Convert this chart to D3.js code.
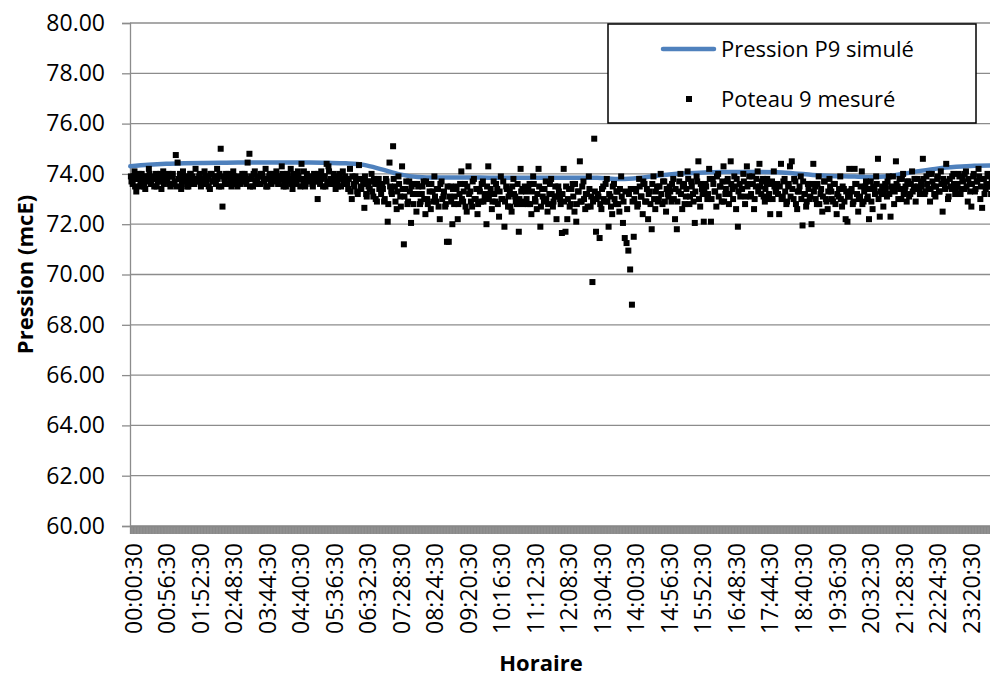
<!DOCTYPE html>
<html lang="fr">
<head>
    <meta charset="UTF-8"/>
    <title>Pression P9</title>
    <script src="https://d3js.org/d3.v7.min.js"></script>
    <style>
        body { margin: 0; background: #fff; }
        svg { font-family: "Open Sans", sans-serif; }
    </style>
</head>
<body>
    <div id="chart"></div>

    <script>
        // x tick labels (one every 56 minutes)
        var tickLabels = ["00:00:30", "00:56:30", "01:52:30", "02:48:30", "03:44:30", "04:40:30",
            "05:36:30", "06:32:30", "07:28:30", "08:24:30", "09:20:30", "10:16:30", "11:12:30",
            "12:08:30", "13:04:30", "14:00:30", "14:56:30", "15:52:30", "16:48:30", "17:44:30",
            "18:40:30", "19:36:30", "20:32:30", "21:28:30", "22:24:30", "23:20:30"];

        var yTicks = [60, 62, 64, 66, 68, 70, 72, 74, 76, 78, 80];

        // simulated pressure, one value every 30 minutes (00:00 -> 24:00)
        var simValues = [74.30, 74.36, 74.40, 74.42, 74.43, 74.44, 74.45, 74.45, 74.45, 74.45,
            74.45, 74.44, 74.42, 74.36, 74.18, 73.98, 73.88, 73.86, 73.86, 73.86,
            73.85, 73.85, 73.85, 73.85, 73.85, 73.85, 73.85, 73.80, 73.82, 73.90,
            73.98, 74.03, 74.06, 74.08, 74.08, 74.08, 74.07, 74.02, 73.96, 73.92,
            73.90, 73.88, 73.90, 74.00, 74.12, 74.22, 74.28, 74.32, 74.33];

        // measured pressure, one row per hour, one value every 3 minutes (minute +1)
        var measured = [
            [73.9, 73.6, 74.1, 73.3, 73.8, 73.5, 74.0, 73.7, 73.4, 73.9, 74.2, 73.6, 73.8, 73.5, 74.0, 73.7, 73.9, 73.4, 74.1, 73.8],
            [73.7, 74.0, 73.5, 73.9, 73.6, 74.75, 74.45, 73.8, 73.4, 74.1, 73.7, 73.9, 73.5, 74.0, 73.8, 73.6, 74.2, 73.7, 73.9, 73.5],
            [73.8, 74.1, 73.6, 73.9, 73.4, 74.0, 73.7, 73.9, 74.2, 73.5, 75.0, 72.7, 73.8, 74.0, 73.6, 73.9, 73.5, 74.1, 73.7, 73.8],
            [73.9, 73.6, 74.0, 73.7, 73.9, 74.45, 74.8, 73.8, 73.5, 74.1, 73.7, 73.9, 73.6, 74.0, 73.8, 74.2, 73.5, 73.9, 73.7, 74.0],
            [73.8, 74.1, 73.6, 73.9, 74.3, 73.5, 73.8, 74.0, 73.7, 74.2, 73.4, 73.9, 73.6, 74.1, 73.8, 74.4, 73.7, 73.5, 74.0, 73.8],
            [73.9, 73.6, 74.0, 73.7, 73.0, 73.8, 74.1, 73.5, 73.9, 74.4, 74.3, 73.6, 73.8, 74.0, 73.4, 73.7, 73.9, 73.5, 74.1, 73.6],
            [73.8, 73.4, 74.2, 73.0, 73.6, 73.9, 73.3, 74.35, 73.5, 73.8, 72.65, 73.2, 73.7, 73.4, 74.0, 73.1, 73.6, 72.9, 73.8, 73.5],
            [73.6, 72.9, 73.8, 72.1, 74.45, 73.3, 75.1, 73.5, 72.6, 73.9, 73.1, 74.3, 71.2, 73.4, 72.8, 73.7, 72.05, 73.2, 73.6, 72.5],
            [73.5, 72.8, 73.2, 73.7, 72.4, 73.0, 73.6, 72.6, 73.3, 73.9, 72.9, 73.4, 72.2, 73.7, 73.1, 72.7, 71.3, 71.3, 73.5, 72.0],
            [72.8, 73.5, 72.2, 73.2, 74.1, 72.9, 73.6, 72.5, 74.3, 73.3, 72.7, 73.8, 73.0, 72.4, 73.4, 72.9, 73.7, 73.1, 72.0, 74.3],
            [73.2, 72.6, 73.7, 72.9, 73.4, 72.3, 73.9, 73.0, 71.9, 73.5, 72.7, 73.3, 72.5, 73.8, 73.1, 72.8, 71.7, 74.2, 73.4, 72.9],
            [73.3, 72.8, 73.6, 72.4, 73.9, 73.0, 72.6, 74.2, 71.9, 73.4, 72.9, 73.7, 72.5, 73.2, 73.8, 72.7, 73.1, 72.2, 73.5, 73.0],
            [71.65, 74.2, 71.7, 72.2, 73.4, 72.8, 73.6, 72.5, 72.1, 73.3, 74.5, 72.9, 73.7, 72.6, 73.2, 73.9, 72.7, 69.7, 75.4, 71.7],
            [73.2, 71.45, 72.6, 73.5, 72.9, 73.8, 71.9, 73.1, 72.4, 73.6, 72.8, 73.3, 72.5, 73.9, 72.05, 71.45, 71.25, 70.95, 70.2, 68.8],
            [71.5, 73.4, 72.7, 73.8, 73.1, 72.4, 73.6, 72.9, 72.2, 73.3, 71.8, 73.9, 72.6, 73.5, 73.0, 74.0, 72.8, 73.7, 72.5, 73.2],
            [73.5, 72.9, 73.8, 72.2, 71.8, 73.3, 74.0, 72.6, 73.6, 73.1, 74.1, 72.8, 73.7, 73.2, 72.05, 73.9, 74.5, 72.7, 73.4, 72.1],
            [73.6, 73.0, 74.2, 72.1, 73.8, 73.3, 72.7, 74.0, 73.5, 72.9, 74.3, 73.2, 73.7, 72.8, 74.5, 73.4, 73.9, 72.6, 71.9, 73.6],
            [73.4, 74.0, 72.8, 74.3, 73.6, 73.1, 73.9, 72.6, 73.5, 74.1, 74.4, 73.2, 73.8, 72.9, 73.6, 73.0, 72.4, 73.7, 74.1, 73.3],
            [73.6, 72.4, 74.4, 73.1, 73.8, 72.8, 73.5, 74.3, 74.5, 73.0, 73.7, 72.6, 73.3, 73.9, 71.95, 73.2, 72.7, 73.6, 73.0, 72.0],
            [74.4, 73.5, 72.8, 73.9, 73.2, 72.5, 73.7, 73.0, 72.6, 73.8, 73.3, 72.9, 73.6, 72.4, 73.1, 73.9, 72.7, 73.4, 72.2, 72.1],
            [74.2, 73.3, 72.8, 74.2, 73.6, 72.5, 73.1, 74.1, 72.9, 73.5, 73.0, 72.2, 73.7, 72.6, 73.4, 73.9, 74.6, 72.3, 73.2, 72.7],
            [73.6, 73.1, 73.9, 72.3, 73.4, 72.8, 74.5, 73.5, 73.8, 73.0, 74.0, 73.3, 72.9, 73.7, 73.2, 74.1, 73.5, 72.9, 73.8, 73.4],
            [73.7, 74.6, 73.2, 73.9, 73.4, 72.9, 74.0, 73.5, 73.1, 73.8, 73.3, 74.1, 72.5, 73.6, 74.4, 73.0, 73.8, 73.4, 74.0, 73.2],
            [73.5, 74.0, 73.2, 73.8, 73.4, 74.1, 72.9, 73.6, 72.7, 73.9, 73.3, 73.7, 74.2, 73.0, 72.65, 73.8, 73.4, 74.0, 73.5, 73.2]
        ];

        // more measured values, same layout, minute +2 of each 3-minute slot
        var measuredB = [
            [73.7, 73.9, 73.5, 73.8, 74.0, 73.6, 73.8, 73.5, 73.9, 73.7, 74.0, 73.6, 73.8, 73.9, 73.5, 73.7, 74.0, 73.8, 73.6, 73.9],
            [73.8, 73.6, 73.9, 74.0, 73.7, 73.5, 73.8, 74.0, 73.6, 73.9, 73.8, 73.5, 73.7, 74.0, 73.9, 73.6, 73.8, 73.7, 74.0, 73.6],
            [73.6, 73.9, 73.8, 73.5, 74.0, 73.7, 73.9, 73.6, 73.8, 74.0, 73.5, 73.9, 73.7, 73.6, 74.0, 73.8, 73.6, 73.9, 73.8, 73.5],
            [73.8, 73.7, 73.9, 74.0, 73.6, 73.8, 73.5, 73.9, 74.0, 73.7, 73.8, 73.6, 74.0, 73.9, 73.7, 73.5, 73.8, 74.0, 73.6, 73.9],
            [73.7, 73.9, 73.6, 73.8, 74.0, 73.7, 73.5, 73.9, 73.8, 73.6, 74.0, 73.8, 73.7, 73.9, 73.5, 73.8, 74.1, 73.6, 73.9, 73.7],
            [73.8, 73.5, 73.9, 73.7, 74.0, 73.6, 73.8, 73.9, 73.5, 73.7, 74.1, 73.8, 73.6, 73.9, 73.7, 73.5, 74.0, 73.8, 73.6, 73.9],
            [73.6, 73.8, 73.3, 73.9, 73.5, 73.7, 73.2, 73.8, 73.4, 73.6, 73.9, 73.1, 73.5, 73.7, 73.3, 73.8, 73.0, 73.6, 73.4, 73.2],
            [73.4, 73.0, 73.7, 72.8, 73.5, 73.2, 73.8, 72.9, 73.3, 73.6, 72.7, 73.4, 73.1, 73.7, 72.9, 73.3, 73.5, 72.8, 73.2, 73.6],
            [73.2, 72.9, 73.5, 73.0, 73.7, 72.8, 73.3, 73.6, 72.9, 73.1, 73.4, 72.7, 73.6, 73.0, 73.3, 72.8, 73.5, 73.1, 72.9, 73.4],
            [73.1, 73.4, 72.8, 73.6, 73.0, 73.3, 72.7, 73.5, 73.2, 72.9, 73.7, 73.0, 73.4, 72.8, 73.3, 73.6, 72.9, 73.2, 73.5, 73.0],
            [73.4, 72.9, 73.2, 73.6, 72.8, 73.3, 73.0, 73.7, 72.9, 73.4, 73.1, 72.7, 73.5, 73.2, 72.9, 73.6, 73.0, 73.3, 72.8, 73.5],
            [73.0, 73.4, 72.8, 73.3, 73.6, 72.9, 73.2, 73.5, 72.7, 73.1, 73.4, 73.0, 72.8, 73.6, 73.2, 72.9, 73.5, 73.1, 73.3, 72.8],
            [73.2, 72.9, 73.5, 73.0, 72.7, 73.4, 73.1, 73.6, 72.8, 73.3, 72.9, 73.5, 73.0, 73.2, 72.7, 73.4, 73.1, 72.9, 73.3, 73.0],
            [73.1, 72.8, 73.4, 73.0, 73.6, 72.9, 73.2, 72.7, 73.5, 73.0, 73.3, 72.8, 73.4, 73.1, 72.9, 73.3, 72.6, 73.2, 73.4, 72.9],
            [73.0, 73.3, 72.8, 73.5, 73.1, 73.7, 72.9, 73.4, 73.2, 72.8, 73.6, 73.0, 73.3, 72.9, 73.5, 73.2, 73.7, 72.9, 73.4, 73.1],
            [73.3, 73.6, 73.0, 73.4, 72.9, 73.7, 73.2, 73.5, 72.8, 73.4, 73.8, 73.1, 73.5, 72.9, 73.3, 73.7, 73.0, 73.6, 73.2, 73.4],
            [73.5, 73.2, 73.8, 73.0, 73.6, 73.3, 73.9, 73.1, 73.5, 73.7, 72.9, 73.4, 73.8, 73.2, 73.6, 73.0, 73.5, 73.8, 73.3, 73.1],
            [73.4, 73.7, 73.1, 73.5, 73.9, 73.2, 73.6, 73.0, 73.8, 73.3, 73.5, 73.7, 73.1, 73.4, 73.8, 73.2, 73.6, 73.0, 73.5, 73.3],
            [73.2, 73.5, 73.0, 73.7, 73.3, 72.9, 73.6, 73.1, 73.4, 73.8, 72.8, 73.3, 73.5, 73.0, 73.7, 73.2, 72.9, 73.4, 73.1, 73.6],
            [73.3, 73.0, 73.6, 72.8, 73.4, 73.1, 73.7, 72.9, 73.3, 73.5, 73.0, 73.6, 72.8, 73.2, 73.4, 73.0, 73.5, 72.9, 73.3, 73.1],
            [73.1, 73.4, 72.9, 73.6, 73.2, 73.0, 73.5, 72.8, 73.3, 73.7, 73.1, 73.4, 72.9, 73.5, 73.2, 73.6, 73.0, 73.3, 73.5, 73.2],
            [73.4, 73.7, 73.2, 73.5, 73.9, 73.3, 73.6, 73.0, 73.4, 73.8, 73.2, 73.5, 73.7, 73.1, 73.6, 73.3, 73.8, 73.4, 73.5, 73.2],
            [73.5, 73.8, 73.3, 73.6, 74.0, 73.4, 73.7, 73.2, 73.5, 73.9, 73.3, 73.6, 73.8, 73.4, 73.7, 73.1, 73.5, 73.9, 73.6, 73.4],
            [73.6, 73.9, 73.4, 73.7, 74.0, 73.5, 73.8, 73.3, 73.6, 74.0, 73.4, 73.7, 73.9, 73.5, 73.8, 73.2, 73.6, 73.9, 73.5, 73.7]
        ];

        var w = 990;
        var h = 678;
        var plotLeft = 130, plotRight = 992, plotTop = 23, plotBottom = 526;

        var minutes = d3.range(1440);

        var xScale = d3.scaleBand()
                        .domain(minutes)
                        .range([plotLeft, plotRight])
                        .padding(0);

        function xMid(m) { return xScale(m) + xScale.bandwidth() / 2; }

        var yScale = d3.scaleLinear()
                        .domain([60, 80])
                        .range([plotBottom, plotTop]);

        var svg = d3.select("#chart")
                    .append("svg")
                    .attr("width", w)
                    .attr("height", h);

        // horizontal grid lines
        svg.append("g")
           .selectAll("line")
           .data(yTicks)
           .enter()
           .append("line")
           .attr("x1", plotLeft)
           .attr("x2", w)
           .attr("y1", function(d) { return yScale(d); })
           .attr("y2", function(d) { return yScale(d); })
           .attr("stroke", "#8c8c8c")
           .attr("stroke-width", 1.3);

        // Y axis
        var yAxis = d3.axisLeft(yScale)
                      .tickValues(yTicks)
                      .tickSize(8)
                      .tickFormat(function(d) { return d3.format(".2f")(d); });
        var gy = svg.append("g")
           .attr("transform", "translate(" + plotLeft + ",0)")
           .call(yAxis);
        gy.select(".domain").attr("stroke", "#8c8c8c").attr("stroke-width", 1.3);
        gy.selectAll(".tick line").attr("stroke", "#8c8c8c").attr("stroke-width", 1.3);
        gy.selectAll(".tick text")
          .attr("x", -25)
          .attr("font-size", "23px")
          .attr("font-family", "Open Sans, sans-serif")
          .attr("fill", "#000");

        // X axis: one tick per minute, a label every 56 minutes
        var xAxis = d3.axisBottom(xScale)
                      .tickValues(minutes)
                      .tickSize(8)
                      .tickFormat(function(d) { return d % 56 === 0 ? tickLabels[d / 56] : ""; });
        var gx = svg.append("g")
           .attr("transform", "translate(0," + plotBottom + ")")
           .call(xAxis);
        gx.select(".domain").attr("stroke", "#8c8c8c").attr("stroke-width", 1.3);
        gx.selectAll(".tick line").attr("stroke", "#888").attr("stroke-width", 1);
        gx.selectAll(".tick text")
          .filter(function(d) { return d % 56 !== 0; })
          .remove();
        gx.selectAll(".tick text")
          .attr("transform", "rotate(-90)")
          .attr("text-anchor", "end")
          .attr("x", -17)
          .attr("y", 3)
          .attr("dy", "0.35em")
          .attr("font-size", "23px")
          .attr("font-family", "Open Sans, sans-serif")
          .attr("fill", "#000");

        // simulated line
        var line = d3.line()
                     .x(function(d, i) { return xMid(Math.min(i * 30, 1439)); })
                     .y(function(d) { return yScale(d); })
                     .curve(d3.curveMonotoneX);

        svg.append("path")
           .datum(simValues)
           .attr("d", line)
           .attr("fill", "none")
           .attr("stroke", "#4f81bd")
           .attr("stroke-width", 4.5)
           .attr("stroke-linecap", "round");

        // measured points
        var points = [];
        measured.forEach(function(row, hr) {
            row.forEach(function(v, i) {
                points.push({ m: hr * 60 + i * 3 + 1, v: v });
            });
        });
        measuredB.forEach(function(row, hr) {
            row.forEach(function(v, i) {
                points.push({ m: hr * 60 + i * 3 + 2, v: v });
            });
        });

        var sq = 6;
        svg.append("g")
           .selectAll("rect")
           .data(points)
           .enter()
           .append("rect")
           .attr("x", function(d) { return xMid(d.m) - sq / 2; })
           .attr("y", function(d) { return yScale(d.v) - sq / 2; })
           .attr("width", sq)
           .attr("height", sq)
           .attr("fill", "#000");

        // axis titles
        svg.append("text")
           .attr("transform", "rotate(-90)")
           .attr("x", -(plotTop + plotBottom) / 2)
           .attr("y", 33)
           .attr("text-anchor", "middle")
           .attr("font-size", "22px")
           .attr("font-weight", "bold")
           .text("Pression (mcE)");

        svg.append("text")
           .attr("x", 541)
           .attr("y", 671)
           .attr("text-anchor", "middle")
           .attr("font-size", "22px")
           .attr("font-weight", "bold")
           .text("Horaire");

        // legend
        var legend = svg.append("g");
        legend.append("rect")
              .attr("x", 608)
              .attr("y", 24)
              .attr("width", 368)
              .attr("height", 99)
              .attr("fill", "#fff")
              .attr("stroke", "#000")
              .attr("stroke-width", 1.5);
        legend.append("line")
              .attr("x1", 663).attr("x2", 714)
              .attr("y1", 49).attr("y2", 49)
              .attr("stroke", "#4f81bd")
              .attr("stroke-width", 4.5)
              .attr("stroke-linecap", "round");
        legend.append("rect")
              .attr("x", 686).attr("y", 96)
              .attr("width", 6).attr("height", 6)
              .attr("fill", "#000");
        legend.append("text")
              .attr("x", 721).attr("y", 57)
              .attr("font-size", "22px")
              .text("Pression P9 simulé");
        legend.append("text")
              .attr("x", 721).attr("y", 107)
              .attr("font-size", "22px")
              .text("Poteau 9 mesuré");
    </script>
</body>
</html>
